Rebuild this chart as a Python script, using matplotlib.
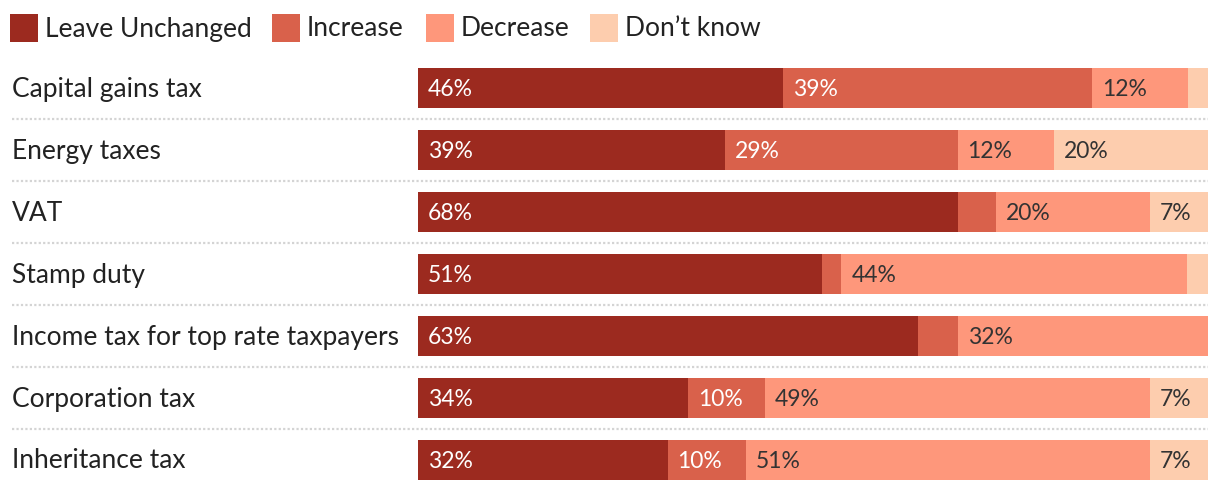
import matplotlib
matplotlib.use("Agg")
import matplotlib.pyplot as plt
from matplotlib.patches import Rectangle
import numpy as np

plt.rcParams['font.family'] = ['Lato', 'DejaVu Sans']

taxes = [
    "Capital gains tax",
    "Energy taxes",
    "VAT",
    "Stamp duty",
    "Income tax for top rate taxpayers",
    "Corporation tax",
    "Inheritance tax",
]
categories = ["Leave Unchanged", "Increase", "Decrease", "Don\u2019t know"]
# shares in % (labels show rounded values)
unchanged = [46.2, 38.9, 68.4, 51.1, 63.3, 34.2, 31.6]
increase = [39.1, 29.4, 4.8, 2.5, 5.1, 9.7, 9.9]
decrease = [12.2, 12.2, 19.5, 43.8, 31.6, 48.7, 51.1]
dont_know = [2.5, 19.5, 7.3, 2.6, 0.0, 7.4, 7.4]

colors = ["#9c2a1f", "#d9614b", "#fe977b", "#fdcdae"]
text_colors = ["white", "white", "#333333", "#333333"]

W, H = 1220, 492
fig = plt.figure(figsize=(W / 100, H / 100), dpi=100)

def fx(px):
    return px / W

def fy(py):
    return 1 - py / H

# bar area in pixels
left, right = 418, 1208
top, bottom = 57, 491
ax = fig.add_axes([fx(left), fy(bottom), fx(right - left), (bottom - top) / H])

series = [unchanged, increase, decrease, dont_know]
y = np.arange(len(taxes))
start = np.zeros(len(taxes))
for vals, col, tcol in zip(series, colors, text_colors):
    vals = np.array(vals, dtype=float)
    ax.barh(y, vals, left=start, height=40 / 62, color=col, linewidth=0)
    for yi, (s, v) in enumerate(zip(start, vals)):
        if v >= 6.5:
            ax.text(s + 1.25, yi + 7.5 / 62, f"{round(v)}%", color=tcol,
                    fontsize=16.5, va="baseline", ha="left")
    start += vals

ax.set_xlim(0, 100)
ax.set_ylim(len(taxes) - 0.5, -0.5)
ax.axis("off")

# row labels and dotted separators
for yi, name in enumerate(taxes):
    fig.text(fx(12), fy(top + 31 + 62 * yi + 8.5), name, fontsize=19,
             color="#222222", va="baseline", ha="left")
for yi in range(len(taxes) - 1):
    ypix = top + 62 * (yi + 1)
    fig.add_artist(plt.Line2D([fx(12), fx(right)], [fy(ypix), fy(ypix)],
                              color="#d4d4d4", linewidth=1.6,
                              linestyle=(0, (1.0, 1.0))))

# legend
legend_x = [10, 272, 426, 590]
for lx, lab, col in zip(legend_x, categories, colors):
    fig.add_artist(Rectangle((fx(lx), fy(42)), fx(28), 28 / H, color=col,
                             transform=fig.transFigure, linewidth=0))
    fig.text(fx(lx + 35), fy(28 + 8.5), lab, fontsize=19, color="#222222",
             va="baseline", ha="left")

fig.savefig("out.png", dpi=100)
